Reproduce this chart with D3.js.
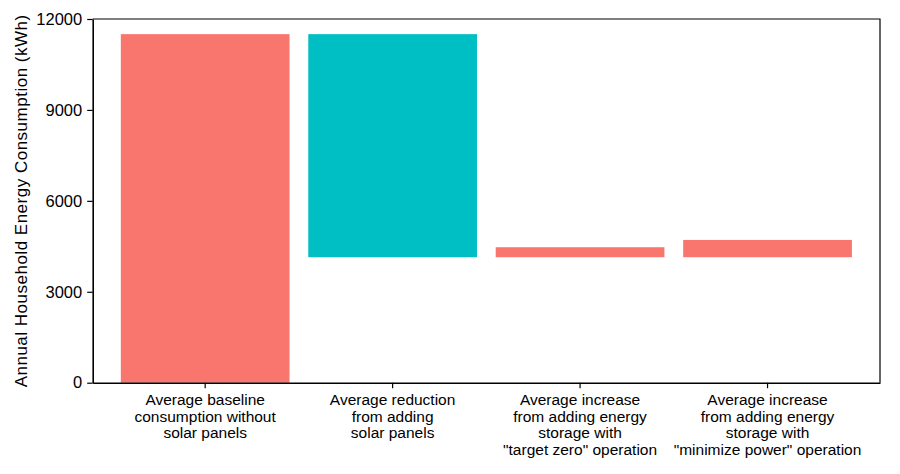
<!DOCTYPE html>
<html>
<head>
<meta charset="utf-8">
<script src="https://cdn.jsdelivr.net/npm/d3@7"></script>
<style>
  html, body { margin: 0; padding: 0; background: #fff; }
  svg { display: block; }
  text { font-family: "Liberation Sans", Arial, Helvetica, sans-serif; fill: #000; }
</style>
</head>
<body>
<svg id="chart" width="900" height="474"></svg>
<script>
// ---- data ----
const categories = ["baseline", "solar", "targetZero", "minimizePower"];
const categoryLabels = [
  ["Average baseline", "consumption without", "solar panels"],
  ["Average reduction", "from adding", "solar panels"],
  ["Average increase", "from adding energy", "storage with", "\"target zero\" operation"],
  ["Average increase", "from adding energy", "storage with", "\"minimize power\" operation"]
];
const barStart = [0, 11500, 4140, 4140];
const barEnd   = [11500, 4140, 4470, 4710];
const barType  = ["increase", "decrease", "increase", "increase"];
const yTicks = [0, 3000, 6000, 9000, 12000];
const yTitle = "Annual Household Energy Consumption (kWh)";

// ---- layout ----
const svg = d3.select("#chart");
const pL = 92.7, pR = 880, pT = 19, pB = 382.7;

const x = d3.scaleBand().domain(categories).range([pL, pR])
  .paddingInner(0.1).paddingOuter(0.15);
const y = d3.scaleLinear().domain([0, 12000]).range([pB, pT]);
const color = d3.scaleOrdinal().domain(["increase", "decrease"]).range(["#F8766D", "#00BFC4"]);

const data = categories.map((c, i) => ({ c, s: barStart[i], e: barEnd[i], t: barType[i], lines: categoryLabels[i] }));

// bars
svg.append("g").selectAll("rect").data(data).join("rect")
  .attr("x", d => x(d.c))
  .attr("width", x.bandwidth())
  .attr("y", d => y(Math.max(d.s, d.e)))
  .attr("height", d => Math.abs(y(d.s) - y(d.e)))
  .attr("fill", d => color(d.t));

// frame (top & right)
svg.append("path")
  .attr("d", `M${pL},${pT}H${pR}V${pB}`)
  .attr("fill", "none").attr("stroke", "#000").attr("stroke-width", 1.2);

// y axis
const yAxis = svg.append("g").attr("transform", `translate(${pL},0)`)
  .call(d3.axisLeft(y).tickValues(yTicks).tickFormat(d3.format("d"))
    .tickSizeInner(5.5).tickSizeOuter(0).tickPadding(5));
yAxis.select(".domain").attr("stroke-width", 1.6);
yAxis.selectAll(".tick line").attr("stroke-width", 1.2);
yAxis.selectAll("text").attr("font-size", 16.5).attr("font-family", "Liberation Sans, Arial, sans-serif").attr("fill", "#000");

// x axis
const xAxis = svg.append("g").attr("transform", `translate(0,${pB})`)
  .call(d3.axisBottom(x).tickSizeInner(5.5).tickSizeOuter(0).tickFormat(() => ""));
xAxis.select(".domain").attr("stroke-width", 1.6);
xAxis.selectAll(".tick line").attr("stroke-width", 1.2);
xAxis.selectAll(".tick text").remove();

// x labels (multi-line)
const lab = svg.append("g");
data.forEach(d => {
  const cx = x(d.c) + x.bandwidth() / 2;
  const t = lab.append("text")
    .attr("x", cx)
    .attr("y", 405)
    .attr("text-anchor", "middle")
    .attr("font-size", 15.5);
  d.lines.forEach((ln, j) => {
    t.append("tspan").attr("x", cx).attr("dy", j === 0 ? 0 : 16.7).text(ln);
  });
});

// y title
svg.append("text")
  .attr("transform", `translate(27,${(pT + pB) / 2}) rotate(-90)`)
  .attr("text-anchor", "middle")
  .attr("font-size", 17)
  .attr("letter-spacing", 0.5)
  .text(yTitle);
</script>
</body>
</html>
